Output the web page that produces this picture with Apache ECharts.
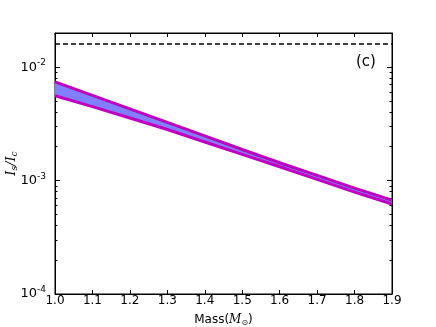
<!DOCTYPE html>
<html>
<head>
<meta charset="utf-8">
<script src="https://cdn.jsdelivr.net/npm/echarts@6/dist/echarts.min.js"></script>
<style>
  html, body { margin: 0; padding: 0; background: #fff; }
  #chart { width: 436px; height: 327px; }
</style>
</head>
<body>
<div id="chart"></div>
<script>
// mass grid (solar masses)
var mass = [1.0, 1.1, 1.2, 1.3, 1.4, 1.5, 1.6, 1.7, 1.8, 1.9];
// upper and lower edges of the band, Is/Ic
var upper = [0.00742, 0.00564, 0.00429, 0.00326, 0.00248, 0.00188, 0.001435, 0.00111, 0.000857, 0.000673];
var lower = [0.0056, 0.00449, 0.00356, 0.00282, 0.00219, 0.0017, 0.001324, 0.001025, 0.000791, 0.000621];
// dashed limit line
var limitX = [1.0, 1.9];
var limitY = 0.016;
// axis ticks
var xTicks = [1.0, 1.1, 1.2, 1.3, 1.4, 1.5, 1.6, 1.7, 1.8];
var yMajor = [1e-4, 1e-3, 1e-2];
var yMinor = [];
yMajor.forEach(function (d) {
  for (var k = 2; k <= 9; k++) {
    var v = d * k;
    if (v < 0.02) yMinor.push(v);
  }
});

var lowerPts = mass.map(function (m, i) { return [m, lower[i]]; });
var upperPts = mass.map(function (m, i) { return [m, upper[i]]; });

var FONT = 'DejaVu Sans';
var magenta = '#bf00bf';

function yAx(pos, ticks, len, withLabel, withLine) {
  return {
    type: 'log',
    logBase: 10,
    position: pos,
    min: 1e-4,
    max: 0.02,
    splitLine: { show: false },
    axisLine: { show: withLine, onZero: false, lineStyle: { color: '#000', width: 1 } },
    axisTick: { show: true, inside: true, length: len, customValues: ticks, lineStyle: { color: '#000', width: 1 } },
    axisLabel: withLabel ? {
      show: true,
      customValues: yMajor,
      margin: 9,
      formatter: function (v) {
        var e = Math.round(Math.log10(v));
        return '{b|10}{s|' + e + '}';
      },
      rich: {
        b: { fontFamily: FONT, fontSize: 13, color: '#000' },
        s: { fontFamily: FONT, fontSize: 9, color: '#000', verticalAlign: 'top', padding: [0, 0, 8, 0] }
      }
    } : { show: false }
  };
}

// band between lower and upper edges, drawn once as a polygon
function renderBand(params, api) {
  if (params.dataIndex !== 0) return;
  var pts = [];
  upperPts.forEach(function (p) { pts.push(api.coord(p)); });
  for (var i = lowerPts.length - 1; i >= 0; i--) pts.push(api.coord(lowerPts[i]));
  return {
    type: 'polygon',
    shape: { points: pts },
    style: { fill: '#8080ff', stroke: null }
  };
}

var chart = echarts.init(document.getElementById('chart'));
chart.setOption({
  animation: false,
  backgroundColor: '#fff',
  grid: { left: 55, top: 33, right: 44, bottom: 33, outerBoundsMode: 'none', containLabel: false, show: true, borderColor: '#000', borderWidth: 1 },
  xAxis: [
    {
      type: 'value', min: 1.0, max: 1.9, interval: 0.1, position: 'bottom',
      splitLine: { show: false },
      axisLine: { onZero: false, lineStyle: { color: '#000' } },
      axisTick: { inside: true, length: 4, customValues: xTicks, lineStyle: { color: '#000' } },
      axisLabel: {
        margin: 1, fontFamily: FONT, fontSize: 12, color: '#000',
        formatter: function (v) { return v.toFixed(1); }
      },
      name: 'Mass({i|M}{sub|⊙})',
      nameLocation: 'middle',
      nameGap: 19,
      nameTextStyle: {
        fontFamily: FONT, fontSize: 12, color: '#000',
        rich: {
          i: { fontFamily: 'DejaVu Serif', fontStyle: 'italic', fontSize: 12, color: '#000' },
          sub: { fontFamily: FONT, fontSize: 8, color: '#000', verticalAlign: 'bottom', padding: [6, 0, 0, 0] }
        }
      }
    },
    {
      type: 'value', min: 1.0, max: 1.9, interval: 0.1, position: 'top',
      splitLine: { show: false },
      axisLine: { onZero: false, lineStyle: { color: '#000' } },
      axisTick: { inside: true, length: 4, customValues: xTicks, lineStyle: { color: '#000' } },
      axisLabel: { show: false }
    }
  ],
  yAxis: [
    Object.assign(yAx('left', yMajor, 5, true, true), {
      name: '{i|I}{sub|s}{i|/I}{sub|c}',
      nameLocation: 'middle',
      nameGap: 36,
      nameRotate: 90,
      nameMoveOverlap: false,
      nameTextStyle: {
        rich: {
          i: { fontFamily: 'DejaVu Serif', fontStyle: 'italic', fontSize: 13, color: '#000' },
          sub: { fontFamily: 'DejaVu Serif', fontStyle: 'italic', fontSize: 9, color: '#000', verticalAlign: 'bottom', padding: [6, 0, 0, 0] }
        }
      }
    }),
    yAx('left', yMinor, 2.5, false, false),
    yAx('right', yMajor, 5, false, true),
    yAx('right', yMinor, 2.5, false, false)
  ],
  graphic: [
    { type: 'text', left: 356, top: 55, style: { text: '(c)', font: '15px "DejaVu Sans"', fill: '#000' } }
  ],
  series: [
    {
      type: 'custom', data: upperPts, renderItem: renderBand, z: 1, clip: true
    },
    {
      type: 'line', data: upperPts, symbol: 'none',
      lineStyle: { color: magenta, width: 3 }, z: 3
    },
    {
      type: 'line', data: lowerPts, symbol: 'none',
      lineStyle: { color: magenta, width: 3 }, z: 3
    },
    {
      type: 'line', data: limitX.map(function (x) { return [x, limitY]; }), symbol: 'none',
      lineStyle: { color: '#000', width: 1.5, type: [5, 3] }, z: 3
    }
  ]
});
</script>
</body>
</html>
